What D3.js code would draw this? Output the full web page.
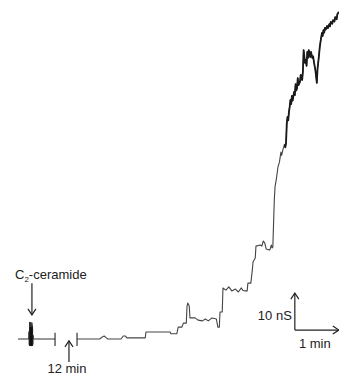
<!DOCTYPE html>
<html>
<head>
<meta charset="utf-8">
<script src="https://cdn.jsdelivr.net/npm/d3@7"></script>
<style>
  body { margin: 0; background: #fff; }
  text { font-family: "Liberation Sans", Arial, sans-serif; fill: #222; }
</style>
</head>
<body>
<div id="chart"></div>
<script>
// recording before the 12 min break (seconds, nS)
const preTime = [0, 14.5, 15, 15.4, 15.8, 16.2, 16.6, 17, 17.4, 17.8, 18.2, 18.6, 19, 19.4, 19.8, 20.2, 20.6, 21, 50.5];
const preCond = [0, 0, 2.0, -1.6, 4.6, -1.9, 4.3, -1.8, 4.6, -1.9, 3.8, -1.7, 4.4, -1.9, 3.6, -1.5, 1.0, 0, 0];

// recording after the break (seconds from restart, nS)
const postTime = [0, 31, 34, 37, 40, 42, 60, 63, 66, 68, 93, 94, 127, 128, 136, 138, 143, 145, 149, 150,
    151, 153, 154, 161, 165, 171, 175, 179, 184, 190, 192, 194, 195, 198, 199, 203, 207, 211, 216, 220,
    224, 226, 229, 232, 233, 237, 239, 240, 243, 244, 250, 252, 254, 256, 258, 261, 263, 265, 266, 267,
    269, 270, 272, 274, 276, 278, 279, 281, 283, 284, 285, 286, 287, 288, 289, 290, 291, 292, 293, 294,
    296, 297, 298, 299, 300, 301, 302, 304, 305, 307, 308, 309, 311, 312, 313, 314, 315, 316, 318, 319,
    321, 322, 323, 325, 326, 327, 328, 329, 330, 331, 332, 333, 334, 335, 336, 337, 338, 339, 341, 342,
    344, 345, 346, 348, 349, 351, 352, 354, 355, 357];
const postCond = [0, 0, 0.5, 0.8, 0.3, 0, 0, 0.8, 0.8, 0.3, 0.3, 1.9, 1.9, 1.4, 1.4, 3.2, 3.2, 4.3, 4.3, 8.9,
    9.7, 8.9, 5.7, 5.7, 5.1, 4.9, 5.4, 4.9, 5.7, 5.4, 3.2, 3.2, 7.3, 7.3, 13.8, 13.2, 14.1, 13.0, 13.5, 12.7,
    13.8, 13.2, 13.0, 13.0, 15.1, 15.1, 18.6, 20.8, 21.9, 25.1, 25.4, 25.1, 26.5, 25.9, 24.3, 24.1, 24.1, 25.4, 24.6, 24.9,
    37.6, 41.1, 43.5, 46.5, 47.8, 50.5, 49.6, 51.4, 52.6, 51.8, 53.0, 58.2, 60.0, 59.1, 61.4, 62.8, 64.6, 63.5, 65.7, 64.4,
    66.8, 65.9, 68.9, 67.2, 67.8, 70.5, 68.6, 69.5, 71.4, 70.0, 72.3, 78.1, 74.6, 75.4, 73.8, 77.6, 76.0, 78.1, 76.2, 77.6,
    75.9, 76.4, 74.9, 72.7, 71.0, 69.2, 73.1, 74.9, 76.8, 78.9, 80.3, 81.6, 82.7, 81.9, 83.5, 82.8, 84.1, 83.6, 84.6, 84.0,
    85.1, 84.5, 85.7, 85.2, 86.2, 85.8, 87.0, 86.4, 87.8, 88.4];

const breakLabel = "12 min";
const agentLabel = "ceramide";
const scaleTime = 60;   // 1 min
const scaleCond = 10;   // 10 nS
const noisyFrom = 283;  // trace gets noisy (drawn heavier) from here

const W = 339, H = 377;
const BREAK_SEC = 80.5;   // drawn width of the break, in trace seconds

const svg = d3.select("#chart").append("svg")
    .attr("width", W)
    .attr("height", H);

const x = d3.scaleLinear().domain([0, 60]).range([18, 62]);
const y = d3.scaleLinear().domain([0, 10]).range([339, 302]);

const line = d3.line()
    .x(d => x(d[0]))
    .y(d => y(d[1]));

const pre = preTime.map((t, i) => [t, preCond[i]]);
const post = postTime.map((t, i) => [t + BREAK_SEC, postCond[i]]);
const noisy = post.filter(d => d[0] >= noisyFrom + BREAK_SEC);

svg.append("path")
    .attr("d", line(pre))
    .attr("fill", "none")
    .attr("stroke", "#333")
    .attr("stroke-width", 1);

// thick artefact at application
svg.append("rect")
    .attr("x", x(15.6))
    .attr("y", y(3.2))
    .attr("width", x(20) - x(15.6))
    .attr("height", y(-1.9) - y(3.2))
    .attr("fill", "#111");

svg.append("path")
    .attr("d", line(post))
    .attr("fill", "none")
    .attr("stroke", "#444")
    .attr("stroke-width", 1.1)
    .attr("stroke-linejoin", "round");

svg.append("path")
    .attr("d", line(noisy))
    .attr("fill", "none")
    .attr("stroke", "#1a1a1a")
    .attr("stroke-width", 1.8)
    .attr("stroke-linejoin", "round");

// break ticks
[preTime[preTime.length - 1], BREAK_SEC].forEach(t => {
    svg.append("line")
        .attr("x1", x(t)).attr("x2", x(t))
        .attr("y1", y(1.7)).attr("y2", y(-1.9))
        .attr("stroke", "#333")
        .attr("stroke-width", 1.2);
});

function arrow(x1, y1, x2, y2, dir) {
    const g = svg.append("g").attr("stroke", "#222").attr("stroke-width", 1.2).attr("fill", "none");
    g.append("line").attr("x1", x1).attr("y1", y1).attr("x2", x2).attr("y2", y2);
    let head;
    if (dir === "down") head = `M${x2 - 4},${y2 - 6}L${x2},${y2}L${x2 + 4},${y2 - 6}`;
    if (dir === "up") head = `M${x2 - 4},${y2 + 6}L${x2},${y2}L${x2 + 4},${y2 + 6}`;
    if (dir === "right") head = `M${x2 - 6},${y2 - 4}L${x2},${y2}L${x2 - 6},${y2 + 4}`;
    g.append("path").attr("d", head);
}

// C2-ceramide arrow
arrow(x(19), y(15.1), x(19), y(6.5), "down");
const lab = svg.append("text")
    .attr("x", 15)
    .attr("y", 279)
    .style("font-size", "13px");
lab.append("tspan").text("C");
lab.append("tspan").text("2").attr("dy", 3).style("font-size", "8px");
lab.append("tspan").text("-" + agentLabel).attr("dy", -3);

// 12 min arrow
arrow(x(69.5), y(-6.2), x(69.5), y(-0.5), "up");
svg.append("text")
    .attr("x", x(69.5) - 2)
    .attr("y", 373)
    .attr("text-anchor", "middle")
    .style("font-size", "13px")
    .text(breakLabel);

// scale bar
const sbT = 377.5, sbG = 2.4;
arrow(x(sbT), y(sbG), x(sbT), y(sbG + scaleCond), "up");
arrow(x(sbT), y(sbG), x(sbT + scaleTime), y(sbG), "right");
svg.append("text")
    .attr("x", x(sbT) - 3)
    .attr("y", 320)
    .attr("text-anchor", "end")
    .style("font-size", "13px")
    .text("10 nS");
svg.append("text")
    .attr("x", x(sbT + scaleTime / 2) - 2)
    .attr("y", 348)
    .attr("text-anchor", "middle")
    .style("font-size", "13px")
    .text("1 min");
</script>
</body>
</html>
